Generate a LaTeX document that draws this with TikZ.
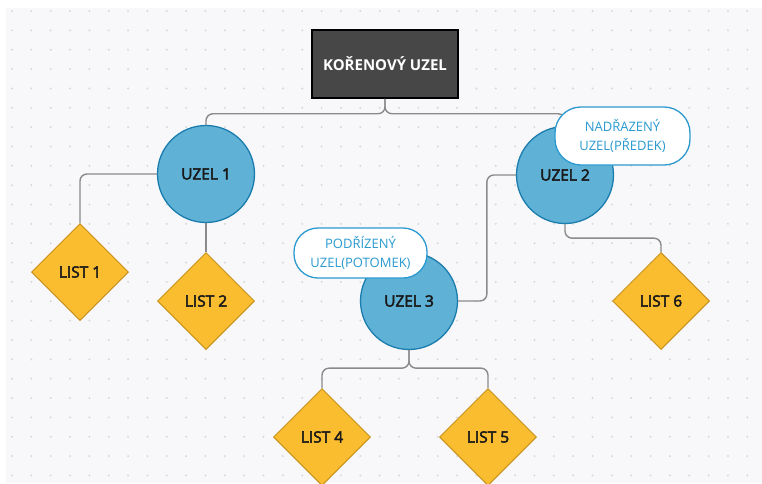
\documentclass[tikz,border=0pt]{standalone}
\usepackage{fontspec}
\setmainfont{Open Sans}
\newfontfamily\tucne[FakeBold=3]{Open Sans}
\usetikzlibrary{shapes.geometric}
\definecolor{bg}{HTML}{F8F8FA}
\definecolor{dotc}{HTML}{D8D8DC}
\definecolor{uzelfill}{HTML}{5FB1D6}
\definecolor{uzeldraw}{HTML}{1B7DAD}
\definecolor{listfill}{HTML}{FBBD30}
\definecolor{listdraw}{HTML}{C8931C}
\definecolor{linka}{HTML}{8A8A8A}
\definecolor{popis}{HTML}{2A9AD0}
\definecolor{koren}{HTML}{474747}
\begin{document}
\begin{tikzpicture}[x=1pt, y=-1pt,
    every node/.style={font=\tucne\fontsize{15.5}{18}\selectfont, text=black!90},
    root/.style={draw=black, fill=koren, line width=1.5pt, minimum width=146pt, minimum height=68pt, text=white, font=\fontsize{15}{17}\selectfont\bfseries},
    uzel/.style={circle, draw=uzeldraw, fill=uzelfill, line width=1.3pt, minimum size=97pt, inner sep=0pt},
    list/.style={diamond, draw=listdraw, fill=listfill, line width=1pt, minimum size=97pt, inner sep=0pt},
    popisek/.style={draw=popis, fill=white, line width=1.3pt, text=popis, align=center, font=\fontsize{13}{19}\selectfont},
    spoj/.style={draw=linka, line width=1.4pt, rounded corners=7pt}]
\clip (0,0) rectangle (762,483);
\fill[white] (0,0) rectangle (762,483);
\fill[bg] (6,8) rectangle (762,483);
\foreach \i in {0,...,39}
  \foreach \j in {0,...,24}
    \fill[dotc] ({12+19.35*\i},{11+19.35*\j}) circle (1.1pt);
\node[root] (root) at (385,64) {KOŘENOVÝ UZEL};
\node[uzel] (u1) at (206,174) {UZEL 1};
\node[uzel] (u2) at (565,175) {UZEL 2};
\node[uzel] (u3) at (409,301) {UZEL 3};
\node[list] (l1) at (80,272) {LIST 1};
\node[list] (l2) at (206,301) {LIST 2};
\node[list] (l4) at (322,437) {LIST 4};
\node[list] (l5) at (488,437) {LIST 5};
\node[list] (l6) at (661,301) {LIST 6};
\draw[spoj] (root.south) -- ++(0,15) -| (u1.north);
\draw[spoj] (root.south) -- ++(0,15) -| (u2.north);
\draw[spoj] (u1.west) -| (l1.north);
\draw[spoj] (u1.south) -- (l2.north);
\draw[spoj] (u2.west) -- ++(-29,0) |- (u3.east);
\draw[spoj] (u2.south) -- ++(0,14) -| (l6.north);
\draw[spoj] (u3.south) -- ++(0,18) -| (l4.north);
\draw[spoj] (u3.south) -- ++(0,18) -| (l5.north);
\node[popisek, rounded corners=26pt, minimum width=135pt, minimum height=58pt] (predek) at (622.5,136) {NADŘAZENÝ\\UZEL(PŘEDEK)};
\node[popisek, rounded corners=24pt, minimum width=133pt, minimum height=50pt] (potomek) at (360.5,253) {PODŘÍZENÝ\\UZEL(POTOMEK)};
\end{tikzpicture}
\end{document}
